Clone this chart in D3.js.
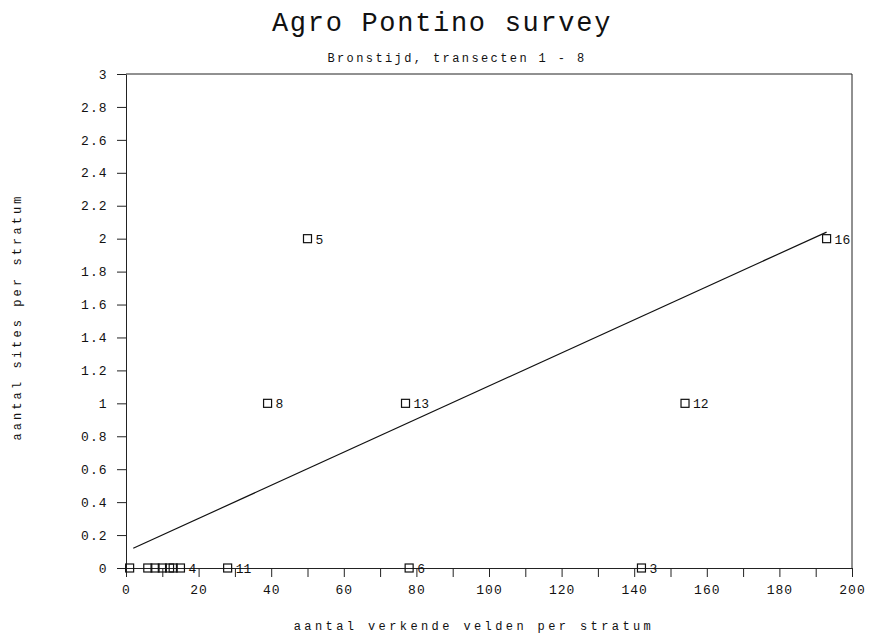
<!DOCTYPE html>
<html><head><meta charset="utf-8">
<script src="https://cdn.jsdelivr.net/npm/d3@7"></script>
<style>body{margin:0;background:#fff}svg{display:block}text{font-family:"Liberation Mono","DejaVu Sans Mono",monospace;fill:#111}</style>
</head><body><svg id="c" width="871" height="635"></svg>
<script>
const title = "Agro Pontino survey";
const subtitle = "Bronstijd, transecten 1 - 8";
const xLabel = "aantal verkende velden per stratum";
const yLabel = "aantal sites per stratum";
const pointX = [1, 6, 8, 10, 12, 13, 15, 28, 39, 50, 77, 78, 142, 154, 193];
const pointY = [0, 0, 0, 0, 0, 0, 0, 0, 1, 2, 1, 0, 0, 1, 2];
// labels of the tightly packed strata near 0 are hidden behind their neighbours in the reference
const pointLabel = ["", "", "", "", "", "", "4", "11", "8", "5", "13", "6", "3", "12", "16"];
const fitX = [2, 193];
const fitY = [0.12, 2.04];
const xTicks = d3.range(0, 201, 10);
const xTickLabels = d3.range(0, 201, 20);
const yTicks = d3.range(0, 16).map(i => +(i * 0.2).toFixed(1));

const svg = d3.select("#c");
const x = d3.scaleLinear().domain([0, 200]).range([126, 852]);
const y = d3.scaleLinear().domain([0, 3]).range([568, 74]);
const FONT = '"Liberation Mono","DejaVu Sans Mono",monospace';

// frame
svg.append("line").attr("x1", x(0)).attr("x2", x(200)).attr("y1", y(3)).attr("y2", y(3)).attr("stroke", "#222");
svg.append("line").attr("x1", x(200)).attr("x2", x(200)).attr("y1", y(3)).attr("y2", y(0)).attr("stroke", "#222");

// x axis
const xa = svg.append("g").attr("transform", `translate(0,${y(0)})`)
  .call(d3.axisBottom(x).tickValues(xTicks).tickSize(9).tickSizeOuter(0)
    .tickFormat(d => xTickLabels.includes(d) ? d : ""));
xa.selectAll("text").attr("font-size", 13).attr("letter-spacing", 1).attr("dy", "1.1em");

// y axis
const ya = svg.append("g").attr("transform", `translate(${x(0)},0)`)
  .call(d3.axisLeft(y).tickValues(yTicks).tickSize(9).tickSizeOuter(0)
    .tickFormat(d => d3.format("")(d)));
ya.selectAll("text").attr("font-size", 13).attr("letter-spacing", 1).attr("dx", "-0.5em");
svg.selectAll(".domain, .tick line").attr("stroke", "#222");
svg.selectAll(".tick text").style("font-family", FONT).attr("fill", "#111");

// regression line
svg.append("line").attr("x1", x(fitX[0])).attr("y1", y(fitY[0])).attr("x2", x(fitX[1])).attr("y2", y(fitY[1]))
  .attr("stroke", "#111").attr("stroke-width", 1.2);

// points
const pts = pointX.map((v, i) => ({x: v, y: pointY[i], l: pointLabel[i]}));
const g = svg.append("g");
g.selectAll("rect").data(pts).enter().append("rect")
  .attr("x", d => x(d.x) - 4).attr("y", d => y(d.y) - 4).attr("width", 8).attr("height", 8)
  .attr("fill", "none").attr("stroke", "#111").attr("stroke-width", 1.2);
g.selectAll("text").data(pts.filter(d => d.l)).enter().append("text")
  .attr("x", d => x(d.x) + 8).attr("y", d => y(d.y) + 5)
  .attr("font-size", 13).text(d => d.l);

// titles
svg.append("text").attr("x", 442).attr("y", 31).attr("text-anchor", "middle")
  .attr("font-size", 27).attr("letter-spacing", 1.7).text(title);
svg.append("text").attr("x", 457).attr("y", 62).attr("text-anchor", "middle")
  .attr("font-size", 12).attr("letter-spacing", 2.4).text(subtitle);
svg.append("text").attr("x", 474).attr("y", 630).attr("text-anchor", "middle")
  .attr("font-size", 12).attr("letter-spacing", 3.4).text(xLabel);
svg.append("text").attr("transform", "translate(21,317) rotate(-90)").attr("text-anchor", "middle")
  .attr("font-size", 12).attr("letter-spacing", 3.1).text(yLabel);
</script></body></html>
